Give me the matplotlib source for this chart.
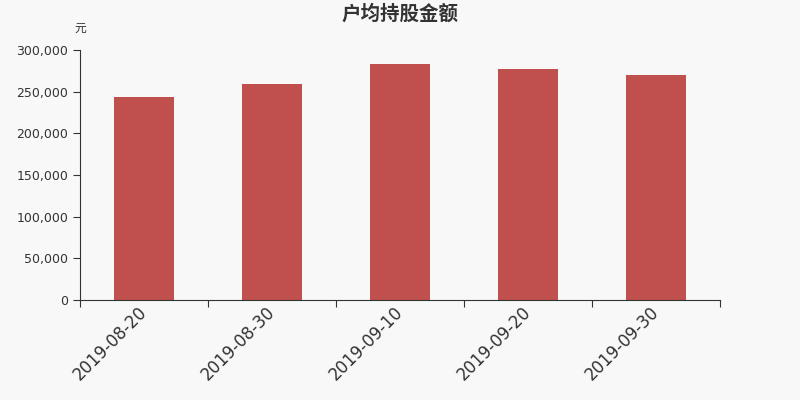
import matplotlib
matplotlib.use("Agg")
from matplotlib import pyplot as plt
from matplotlib import transforms
from matplotlib.ticker import FuncFormatter, MultipleLocator

plt.rcParams['font.family'] = ['DejaVu Sans', 'Noto Sans CJK SC']

# dados
datas = ["2019-08-20", "2019-08-30", "2019-09-10", "2019-09-20", "2019-09-30"]
valores = [243200, 259200, 283200, 276800, 270000]

cor_barra = "#c0504d"
cor_fundo = "#f8f8f8"
cor_texto = "#333333"

fig = plt.figure(figsize=(8, 4), dpi=100, facecolor=cor_fundo)
ax = fig.add_axes([0.1, 0.25, 0.8, 0.625], facecolor=cor_fundo)

pos = list(range(len(datas)))
ax.bar(pos, valores, width=0.47, color=cor_barra)

ax.set_xlim(-0.5, len(datas) - 0.5)
ax.set_ylim(0, 300000)
ax.yaxis.set_major_locator(MultipleLocator(50000))
ax.yaxis.set_major_formatter(FuncFormatter(lambda v, p: f"{int(v):,}"))

# ticks do eixo x nas fronteiras das categorias
ax.set_xticks([p - 0.5 for p in pos] + [len(datas) - 0.5])
ax.set_xticklabels([])
ax.set_xticks(pos, minor=True)
ax.set_xticklabels(datas, minor=True, rotation=45, ha="right", va="top",
                   rotation_mode="anchor", fontsize=12, color=cor_texto)
ax.tick_params(axis="x", which="minor", length=0, pad=2)
ax.tick_params(axis="x", which="major", length=5, color=cor_texto)
ax.tick_params(axis="y", length=5, color=cor_texto, labelsize=9, labelcolor=cor_texto)

# desloca os rótulos um pouco para a esquerda
desloc = transforms.ScaledTranslation(-0.06, 0, fig.dpi_scale_trans)
for rot in ax.get_xticklabels(minor=True):
    rot.set_transform(rot.get_transform() + desloc)

for lado in ["top", "right"]:
    ax.spines[lado].set_visible(False)
ax.spines["left"].set_color(cor_texto)
ax.spines["bottom"].set_color(cor_texto)

fig.text(0.5, 0.965, "户均持股金额", ha="center", va="center", fontsize=14,
         fontweight="bold", color=cor_texto)
fig.text(0.1, 0.928, "元", ha="center", va="center", fontsize=8.5, color=cor_texto)

fig.savefig("out.png", dpi=100, facecolor=cor_fundo)
